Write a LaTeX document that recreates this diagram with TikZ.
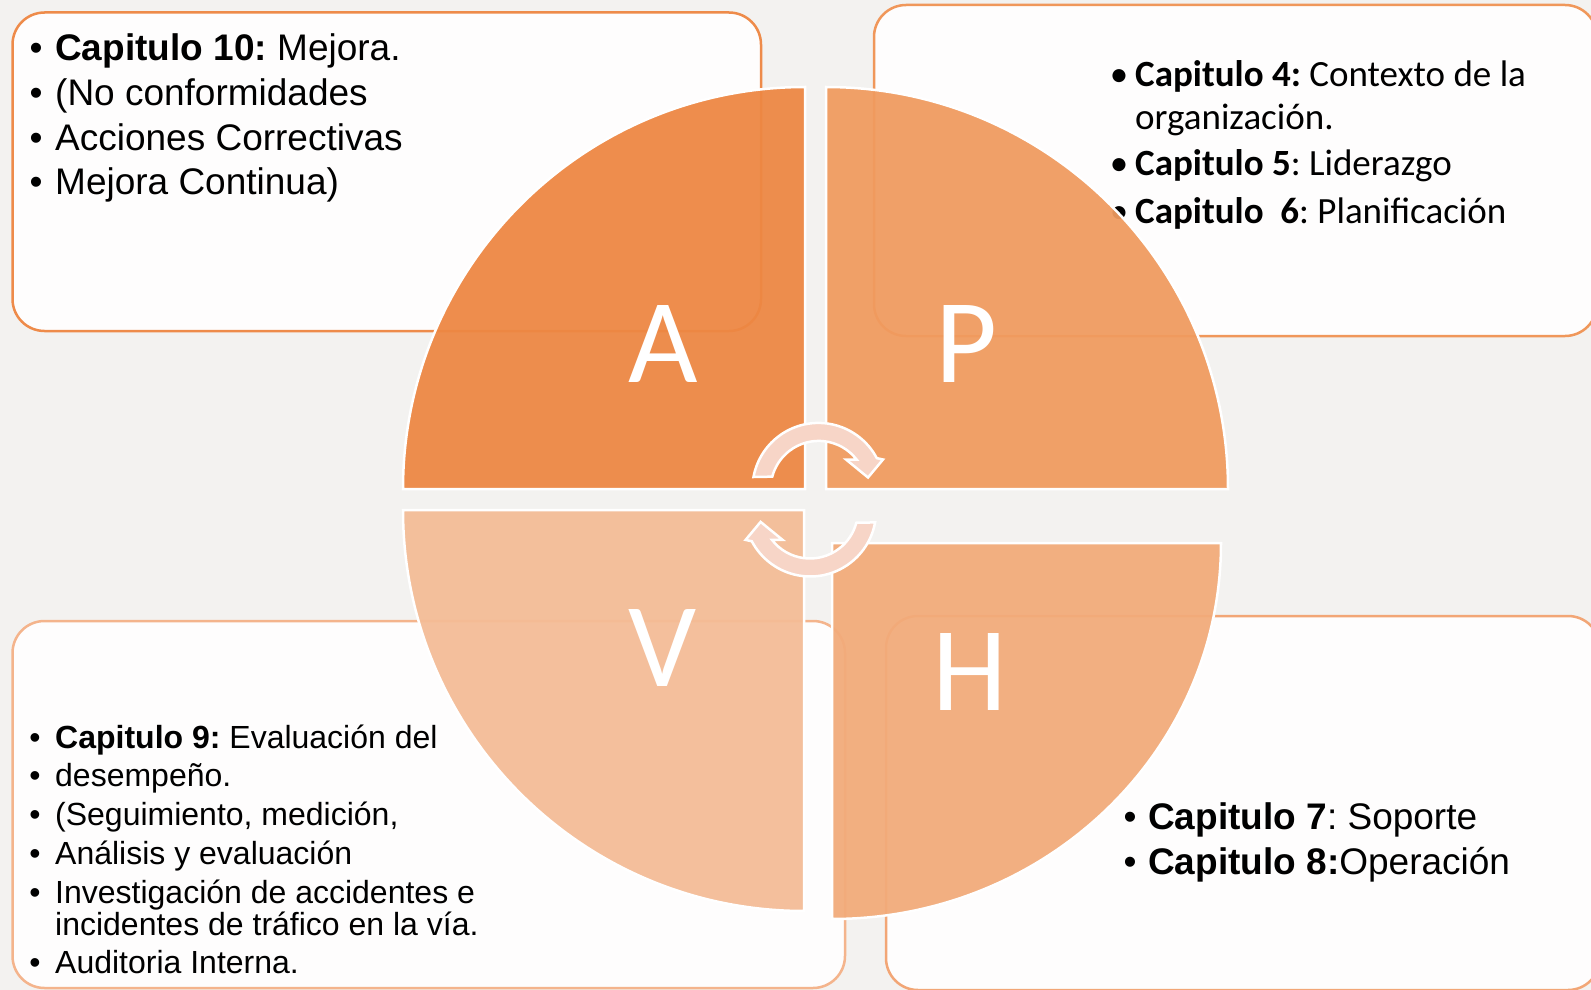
\documentclass[tikz,border=0pt]{standalone}
\usepackage{fontspec}
\setmainfont{Liberation Sans}
\newfontfamily\calfont{Carlito}
\frenchspacing
\definecolor{bgcol}{HTML}{F3F2F0}
\definecolor{bdTL}{HTML}{EE8B4A}
\definecolor{bdTR}{HTML}{F0975A}
\definecolor{bdBL}{HTML}{F4B48C}
\definecolor{bdBR}{HTML}{F2A676}
\definecolor{qA}{HTML}{ED8743}
\definecolor{qP}{HTML}{F09B5F}
\definecolor{qV}{HTML}{F4BC96}
\definecolor{qH}{HTML}{F2AB7A}
\definecolor{arrfill}{HTML}{F7D5C7}
\begin{document}
\begin{tikzpicture}[x=1pt,y=-1pt,
  infobox/.style={rounded corners=32pt, line width=2.5pt, fill=white, fill opacity=0.92, draw opacity=1},
  quad/.style={draw=white, line width=2.5pt, fill opacity=0.94},
  cyclearrow/.style={fill=arrfill, draw=white, line width=2.5pt, line join=miter},
  letter/.style={text=white, font=\calfont\fontsize{120pt}{120pt}\selectfont, inner sep=0pt, anchor=base},
  txtA/.style={anchor=base west, inner sep=0pt, font=\fontsize{37pt}{44pt}\selectfont},
  txtB/.style={anchor=base west, inner sep=0pt, font=\fontsize{32pt}{38pt}\selectfont},
  txtC/.style={anchor=base west, inner sep=0pt, font=\calfont\fontsize{37pt}{44pt}\selectfont},
  bulA/.style={anchor=base, inner sep=0pt, font=\fontsize{37pt}{44pt}\selectfont},
  bulB/.style={anchor=base, inner sep=0pt, font=\fontsize{32pt}{38pt}\selectfont},
  bulC/.style={anchor=base, inner sep=0pt, font=\calfont\fontsize{37pt}{44pt}\selectfont}]
\useasboundingbox (0,0) rectangle (1591,990);
\clip (0,0) rectangle (1591,990);
\fill[bgcol] (0,0) rectangle (1591,990);

% boxes
\path[infobox, draw=bdTL] (12.5,12.5) rectangle (761,331);
\path[infobox, draw=bdTR] (874,5) rectangle (1597,336);
\path[infobox, draw=bdBL] (12.5,621) rectangle (845,988);
\path[infobox, draw=bdBR] (886,616) rectangle (1600,990);

% texts top-left
\node[bulA] (bA1) at (36,61) {•};
\node[txtA] (tA1) at (55,61) {\textbf{Capitulo 10:} Mejora.};
\node[bulA] (bA2) at (36,105.5) {•};
\node[txtA] (tA2) at (55,105.5) {(No conformidades};
\node[bulA] (bA3) at (36,150) {•};
\node[txtA] (tA3) at (55,150) {Acciones Correctivas};
\node[bulA] (bA4) at (36,194.5) {•};
\node[txtA] (tA4) at (55,194.5) {Mejora Continua)};

% texts top-right
\node[bulC] (bP1) at (1119,87) {•};
\node[txtC] (tP1) at (1135,87) {\textbf{Capitulo 4:} Contexto de la};
\node[txtC] (tP2) at (1135,129) {organización.};
\node[bulC] (bP3) at (1119,175) {•};
\node[txtC] (tP3) at (1135,175) {\textbf{Capitulo 5}: Liderazgo};
\node[bulC] (bP4) at (1119,223) {•};
\node[txtC] (tP4) at (1135,223) {\textbf{Capitulo\ \ 6}: Planificación};

% texts bottom-left
\node[bulB] (bV1) at (35,748) {•};
\node[txtB] (tV1) at (55,748) {\textbf{Capitulo 9:} Evaluación del};
\node[bulB] (bV2) at (35,786) {•};
\node[txtB] (tV2) at (55,786) {desempeño.};
\node[bulB] (bV3) at (35,825) {•};
\node[txtB] (tV3) at (55,825) {(Seguimiento, medición,};
\node[bulB] (bV4) at (35,864) {•};
\node[txtB] (tV4) at (55,864) {Análisis y evaluación};
\node[bulB] (bV5) at (35,903) {•};
\node[txtB] (tV5) at (55,903) {Investigación de accidentes e};
\node[txtB] (tV6) at (55,935.5) {incidentes de tráfico en la vía.};
\node[bulB] (bV7) at (35,973.5) {•};
\node[txtB] (tV7) at (55,973.5) {Auditoria Interna.};

% texts bottom-right
\node[bulA] (bH1) at (1130,829) {•};
\node[txtA] (tH1) at (1148,829) {\textbf{Capitulo 7}: Soporte};
\node[bulA] (bH2) at (1130,874) {•};
\node[txtA] (tH2) at (1148,874) {\textbf{Capitulo 8:}Operación};

% quadrants
\path[quad, fill=qA] (805,489) -- (403,489) arc[start angle=180, end angle=270, radius=402] -- cycle;
\path[quad, fill=qP] (826,489) -- (826,87) arc[start angle=270, end angle=360, radius=402] -- cycle;
\path[quad, fill=qV] (804,510) -- (403,510) arc[start angle=180, end angle=90, radius=401] -- cycle;
\path[quad, fill=qH] (832,543) -- (1221,543) arc[start angle=0, end angle=90, x radius=389, y radius=376] -- cycle;

% cycle arrows
\path[cyclearrow] (753.5,477) arc[start angle=190.4, end angle=332.2, radius=66]
  -- (883,459.5) -- (868,477.5) -- (846,459.5) -- (856.6,459.5)
  arc[start angle=322.2, end angle=194.8, radius=48] -- cycle;
\begin{scope}[rotate around={180:(814.3,499.7)}]
\path[cyclearrow] (753.5,477) arc[start angle=190.4, end angle=332.2, radius=66]
  -- (883,459.5) -- (868,477.5) -- (846,459.5) -- (856.6,459.5)
  arc[start angle=322.2, end angle=194.8, radius=48] -- cycle;
\end{scope}

% letters
\node[letter] (LA) at (663,382) {A};
\node[letter] (LP) at (966,382) {P};
\node[letter] (LV) at (663,686) {V};
\node[letter] (LH) at (970,710) {H};
\end{tikzpicture}
\end{document}
